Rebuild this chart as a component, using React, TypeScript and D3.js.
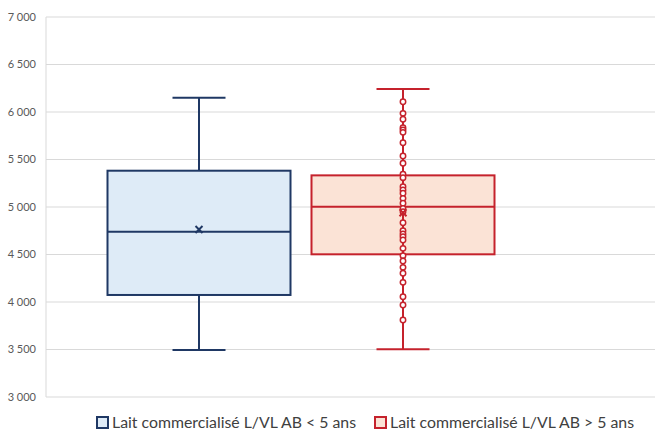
import React from "react";
import * as d3 from "d3";

const seriesNames = ["Lait commercialisé L/VL AB < 5 ans", "Lait commercialisé L/VL AB > 5 ans"];
const mins = [3495, 3502];
const q1s = [4074, 4502];
const medians = [4740, 5003];
const q3s = [5382, 5333];
const maxs = [6150, 6242];
const means = [4763, 4940];
const innerPoints2 = [6108, 5986, 5923, 5835, 5811, 5786, 5677, 5537, 5460, 5344, 5309, 5214, 5179, 5144, 5091, 5039, 4986, 4951, 4835, 4751, 4716, 4688, 4653, 4565, 4488, 4432, 4365, 4302, 4207, 4056, 3968, 3811];
const yTicks = [3000, 3500, 4000, 4500, 5000, 5500, 6000, 6500, 7000];

const fills = ["#DEEBF7", "#FBE3D6"];
const strokes = ["#1F3864", "#C5222C"];

export default function App() {
  const W = 658, H = 430;
  const y = d3.scaleLinear().domain([3000, 7000]).range([397, 17]);
  const x = d3.scaleBand<number>().domain([0, 1]).range([97, 505]).paddingInner(0).paddingOuter(0);
  const fmt = (v: number) => d3.format(",")(v).replace(/,/g, " ");
  const boxW = 183;
  const capW = 53;
  return (
    <svg width={W} height={H} style={{ position: "absolute", left: 0, top: 0, fontFamily: "Lato, 'Open Sans', sans-serif" }}>
      <rect width={W} height={H} fill="#fff" />
      {yTicks.map((t) => (
        <g key={t}>
          <line x1={46} x2={655} y1={y(t)} y2={y(t)} stroke="#D9D9D9" strokeWidth={1} />
          <text x={36} y={y(t)} dy="0.35em" textAnchor="end" fontSize={11} fill="#595959">{fmt(t)}</text>
        </g>
      ))}
      <line x1={46} x2={46} y1={y(7000)} y2={y(3000)} stroke="#D9D9D9" strokeWidth={1} />
      {seriesNames.map((n, i) => {
        const cx = (x(i) as number) + x.bandwidth() / 2;
        const c = strokes[i];
        return (
          <g key={n}>
            <line x1={cx} x2={cx} y1={y(maxs[i])} y2={y(q3s[i])} stroke={c} strokeWidth={2} />
            <line x1={cx} x2={cx} y1={y(q1s[i])} y2={y(mins[i])} stroke={c} strokeWidth={2} />
            <line x1={cx - capW / 2} x2={cx + capW / 2} y1={y(maxs[i])} y2={y(maxs[i])} stroke={c} strokeWidth={2} />
            <line x1={cx - capW / 2} x2={cx + capW / 2} y1={y(mins[i])} y2={y(mins[i])} stroke={c} strokeWidth={2} />
            <rect x={cx - boxW / 2} y={y(q3s[i])} width={boxW} height={y(q1s[i]) - y(q3s[i])} fill={fills[i]} stroke={c} strokeWidth={2} />
            <line x1={cx - boxW / 2} x2={cx + boxW / 2} y1={y(medians[i])} y2={y(medians[i])} stroke={c} strokeWidth={2} />
            {i === 1 && (
              <line x1={cx} x2={cx} y1={y(q3s[i])} y2={y(q1s[i])} stroke={c} strokeWidth={2} />
            )}
            {i === 1 && innerPoints2.map((p, k) => (
              <circle key={k} cx={cx} cy={y(p)} r={2.7} fill="#fff" stroke={c} strokeWidth={1.5} />
            ))}
            <g transform={`translate(${cx},${y(means[i])})`} stroke={c} strokeWidth={2}>
              <line x1={-3.5} x2={3.5} y1={-3.5} y2={3.5} />
              <line x1={-3.5} x2={3.5} y1={3.5} y2={-3.5} />
            </g>
          </g>
        );
      })}
      {seriesNames.map((n, i) => {
        const lx = i === 0 ? 97 : 375;
        return (
          <g key={"l" + i}>
            <rect x={lx} y={417} width={11} height={11} fill={fills[i]} stroke={strokes[i]} strokeWidth={2} />
            <text x={lx + 15} y={422.5} dy="0.35em" fontSize={15.5} fill="#404040" textLength={244} lengthAdjust="spacingAndGlyphs">{n}</text>
          </g>
        );
      })}
    </svg>
  );
}
